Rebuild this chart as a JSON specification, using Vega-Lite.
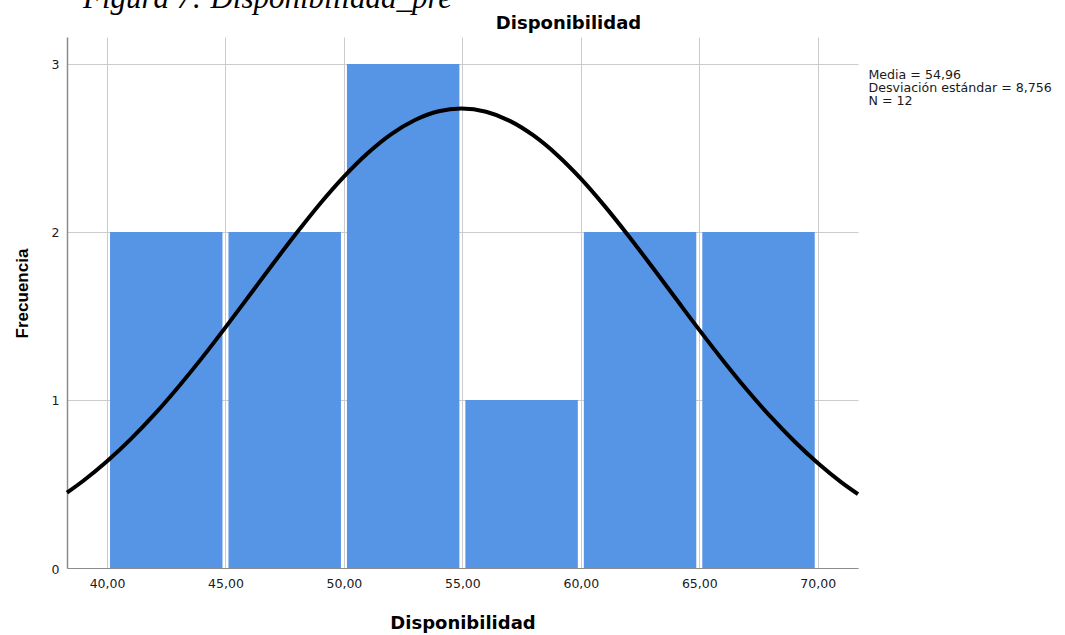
{
  "$schema": "https://vega.github.io/schema/vega-lite/v6.json",
  "width": 791,
  "height": 531,
  "autosize": "none",
  "padding": {"left": 67, "top": 37, "right": 207, "bottom": 67},
  "background": "white",
  "datasets": {
    "barras": [
      {"desde": 40, "hasta": 45, "frecuencia": 2},
      {"desde": 45, "hasta": 50, "frecuencia": 2},
      {"desde": 50, "hasta": 55, "frecuencia": 3},
      {"desde": 55, "hasta": 60, "frecuencia": 1},
      {"desde": 60, "hasta": 65, "frecuencia": 2},
      {"desde": 65, "hasta": 70, "frecuencia": 2}
    ],
    "curva": [
      {"x": 38.31, "y": 0.448}, {"x": 39, "y": 0.519}, {"x": 40, "y": 0.635}, {"x": 41, "y": 0.767},
      {"x": 42, "y": 0.914}, {"x": 43, "y": 1.076}, {"x": 44, "y": 1.249}, {"x": 45, "y": 1.432},
      {"x": 46, "y": 1.620}, {"x": 47, "y": 1.809}, {"x": 48, "y": 1.993}, {"x": 49, "y": 2.169},
      {"x": 50, "y": 2.329}, {"x": 51, "y": 2.468}, {"x": 52, "y": 2.582}, {"x": 53, "y": 2.666},
      {"x": 54, "y": 2.718}, {"x": 54.96, "y": 2.734}, {"x": 56, "y": 2.715}, {"x": 57, "y": 2.661},
      {"x": 58, "y": 2.574}, {"x": 59, "y": 2.458}, {"x": 60, "y": 2.317}, {"x": 61, "y": 2.155},
      {"x": 62, "y": 1.979}, {"x": 63, "y": 1.794}, {"x": 64, "y": 1.605}, {"x": 65, "y": 1.417},
      {"x": 66, "y": 1.235}, {"x": 67, "y": 1.062}, {"x": 68, "y": 0.902}, {"x": 69, "y": 0.756},
      {"x": 70, "y": 0.625}, {"x": 71, "y": 0.510}, {"x": 71.7, "y": 0.440}
    ]
  },
  "title": {
    "text": "Figura 7: Disponibilidad_pre",
    "anchor": "start",
    "frame": "group",
    "dx": 16,
    "offset": -25,
    "font": "Liberation Serif",
    "fontStyle": "italic",
    "fontWeight": "normal",
    "fontSize": 31,
    "color": "black",
    "baseline": "alphabetic"
  },
  "layer": [
    {
      "data": {"name": "barras"},
      "mark": {"type": "bar", "color": "#5694E6", "xOffset": 3, "x2Offset": -3},
      "encoding": {
        "x": {
          "field": "desde",
          "type": "quantitative",
          "scale": {"domain": [38.31, 71.7], "nice": false, "zero": false},
          "axis": {
            "values": [40, 45, 50, 55, 60, 65, 70],
            "labelExpr": "replace(format(datum.value, '.2f'), '.', ',')",
            "grid": true,
            "gridColor": "#CBCBCB",
            "gridWidth": 1,
            "ticks": false,
            "domainColor": "#8C8C8C",
            "domainWidth": 1,
            "labelFont": "DejaVu Sans",
            "labelFontSize": 12.5,
            "labelColor": "#1A1A1A",
            "labelPadding": 9,
            "labelFlush": false,
            "title": "Disponibilidad",
            "titleFont": "DejaVu Sans",
            "titleFontWeight": "bold",
            "titleFontSize": 18,
            "titleColor": "black",
            "titleBaseline": "alphabetic",
            "titleY": 60
          }
        },
        "x2": {"field": "hasta"},
        "y": {
          "field": "frecuencia",
          "type": "quantitative",
          "scale": {"domain": [0, 3.16], "nice": false},
          "axis": {
            "values": [0, 1, 2, 3],
            "format": "d",
            "grid": true,
            "gridColor": "#CBCBCB",
            "gridWidth": 1,
            "ticks": false,
            "domainColor": "#8C8C8C",
            "domainWidth": 1.5,
            "labelFont": "DejaVu Sans",
            "labelFontSize": 12.5,
            "labelColor": "#1A1A1A",
            "labelPadding": 8,
            "labelOffset": 1,
            "labelFlush": false,
            "title": "Frecuencia",
            "titleFont": "Liberation Sans",
            "titleFontWeight": "bold",
            "titleFontSize": 17,
            "titleColor": "black",
            "titleAngle": -90,
            "titleBaseline": "alphabetic",
            "titleAlign": "center",
            "titleX": -40,
            "titleY": 256
          }
        },
        "y2": {"datum": 0}
      }
    },
    {
      "data": {"name": "curva"},
      "mark": {"type": "line", "color": "black", "strokeWidth": 4, "interpolate": "monotone"},
      "encoding": {
        "x": {
          "field": "x",
          "type": "quantitative",
          "scale": {"domain": [38.31, 71.7], "nice": false, "zero": false},
          "axis": {
            "orient": "top",
            "grid": false,
            "domain": false,
            "ticks": false,
            "labels": false,
            "title": "Disponibilidad",
            "titleFont": "DejaVu Sans",
            "titleFontWeight": "bold",
            "titleFontSize": 18,
            "titleColor": "black",
            "titleAlign": "center",
            "titleBaseline": "alphabetic",
            "titleX": 501,
            "titleY": -9
          }
        },
        "y": {
          "field": "y",
          "type": "quantitative",
          "scale": {"domain": [0, 3.16], "nice": false},
          "axis": {
            "orient": "right",
            "grid": false,
            "domain": false,
            "ticks": false,
            "labels": false,
            "title": ["Media = 54,96", "Desviación estándar = 8,756", "N = 12"],
            "titleFont": "DejaVu Sans",
            "titleFontWeight": "normal",
            "titleFontSize": 12.6,
            "titleColor": "#1A1A1A",
            "titleAngle": 0,
            "titleAlign": "left",
            "titleBaseline": "top",
            "titleLineHeight": 13,
            "titleX": 10,
            "titleY": 31
          }
        }
      }
    }
  ],
  "resolve": {"axis": {"x": "independent", "y": "independent"}},
  "config": {"view": {"stroke": null}}
}
